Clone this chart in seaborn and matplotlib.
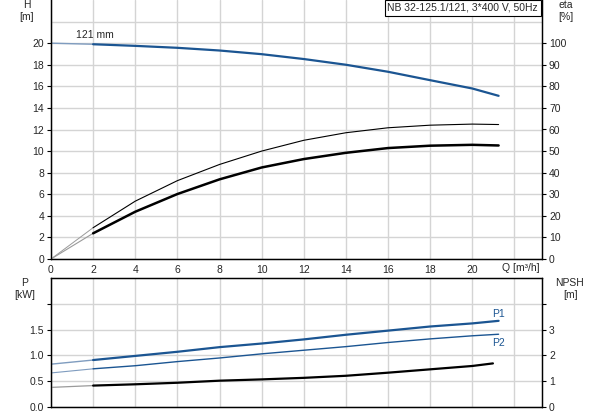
import numpy as np
import pandas as pd
import matplotlib
matplotlib.use("Agg")
import matplotlib.pyplot as plt
import seaborn as sns

# ---------------- data ----------------
q = [0, 2, 4, 6, 8, 10, 12, 14, 16, 18, 20, 21.25]
head = [20.0, 19.9, 19.75, 19.57, 19.32, 18.98, 18.53, 18.0, 17.35, 16.57, 15.8, 15.12]
eta_pump = [0, 14.5, 26.8, 36.3, 43.8, 50.0, 55.0, 58.5, 60.8, 62.0, 62.5, 62.3]
eta_total = [0, 11.9, 21.9, 30.1, 36.9, 42.4, 46.3, 49.2, 51.4, 52.5, 52.9, 52.6]
p1 = [0.83, 0.91, 0.99, 1.07, 1.16, 1.23, 1.31, 1.40, 1.48, 1.56, 1.62, 1.67]
p2 = [0.66, 0.74, 0.80, 0.88, 0.95, 1.03, 1.10, 1.17, 1.25, 1.32, 1.38, 1.41]
q_npsh = [0, 2, 4, 6, 8, 10, 12, 14, 16, 18, 20, 20.98]
npsh = [0.76, 0.83, 0.88, 0.94, 1.02, 1.07, 1.13, 1.21, 1.33, 1.46, 1.59, 1.69]

x_ticks = [0, 2, 4, 6, 8, 10, 12, 14, 16, 18, 20]
h_ticks = [0, 2, 4, 6, 8, 10, 12, 14, 16, 18, 20]
eta_ticks = [0, 10, 20, 30, 40, 50, 60, 70, 80, 90, 100]
p_ticks = [0.0, 0.5, 1.0, 1.5, 2.0]
p_labels = ["0.0", "0.5", "1.0", "1.5", ""]
npsh_ticks = [0, 1, 2, 3, 4]
npsh_labels = ["0", "1", "2", "3", ""]
title = "NB 32-125.1/121, 3*400 V, 50Hz"

# ---------------- style ----------------
sns.set_style("white")
plt.rcParams["font.family"] = ["Liberation Sans", "DejaVu Sans"]
plt.rcParams["font.size"] = 7.5

BLUE = "#1b5592"
GRID = "#d4d4d4"
W, H = 593, 415
fig = plt.figure(figsize=(W / 100, H / 100), dpi=100)

def fx(px):
    return px / W

def fy(py):
    return 1 - py / H

axL, axR = 51, 542
ax1 = fig.add_axes([fx(axL), fy(259), fx(axR - axL), fy(0) - fy(259)])
ax3 = fig.add_axes([fx(axL), fy(407), fx(axR - axL), fy(278) - fy(407)])
ax2 = ax1.twinx()
ax4 = ax3.twinx()

XMAX = 23.31

def seg(ax, xs, ys, color, lw, light_color, light_lw):
    xs = np.asarray(xs, float)
    ys = np.asarray(ys, float)
    m0 = xs <= 2
    m1 = xs >= 2
    sns.lineplot(x=xs[m0], y=ys[m0], ax=ax, color=light_color, lw=light_lw,
                 estimator=None, sort=False)
    sns.lineplot(x=xs[m1], y=ys[m1], ax=ax, color=color, lw=lw,
                 estimator=None, sort=False)

ax1.set_ylim(0, 24)
ax2.set_ylim(0, 120)
ax3.set_ylim(0, 2.5)
ax4.set_ylim(0, 5)

# grid lines
for a, yg in ((ax1, np.arange(0, 23, 2)), (ax3, np.arange(0, 2.1, 0.5))):
    for xv in np.arange(0, 23, 2):
        a.axvline(xv, color=GRID, lw=1.0, zorder=0)
    for yv in yg:
        a.axhline(yv, color=GRID, lw=1.0, zorder=0)

seg(ax1, q, head, BLUE, 1.6, "#7f9cbf", 1.0)
seg(ax2, q, eta_pump, "black", 0.8, "#9a9a9a", 0.7)
seg(ax2, q, eta_total, "black", 1.8, "#9a9a9a", 0.8)
seg(ax3, q, p1, BLUE, 1.6, "#7f9cbf", 1.0)
seg(ax3, q, p2, BLUE, 1.0, "#7f9cbf", 0.8)
seg(ax4, q_npsh, npsh, "black", 1.6, "#9a9a9a", 0.9)

for a in (ax1, ax2, ax3, ax4):
    a.set_xlim(0, XMAX)

ax1.text(2.1, 20.25, "121 mm", ha="center", va="bottom", fontsize=7.5)
ax3.text(21.23, 1.71, "P1", ha="center", va="bottom", color=BLUE, fontsize=7.5)
ax3.text(21.23, 1.33, "P2", ha="center", va="top", color=BLUE, fontsize=7.5)

# ticks
ax1.set_xticks(x_ticks)
ax1.set_xticklabels([str(v) for v in x_ticks])
ax1.set_yticks(h_ticks)
ax1.set_yticklabels([str(v) for v in h_ticks])
ax2.set_yticks(eta_ticks)
ax2.set_yticklabels([str(v) for v in eta_ticks])
ax3.set_xticks([])
ax3.set_yticks(p_ticks)
ax3.set_yticklabels(p_labels)
ax4.set_yticks(npsh_ticks)
ax4.set_yticklabels(npsh_labels)

for a in (ax1, ax2, ax3, ax4):
    a.set_xlabel("")
    a.set_ylabel("")
    a.tick_params(axis="y", length=3, width=0.8, pad=2, labelsize=7.5,
                  color="black", direction="out")
    a.grid(False)
    for s in a.spines.values():
        s.set_color("black")
        s.set_linewidth(0.9)
ax1.tick_params(axis="x", length=0, pad=4, labelsize=7.5)
ax2.spines["top"].set_visible(False)
ax1.spines["top"].set_visible(False)

# axis labels
fig.text(fx(27), fy(5), "H", ha="center", va="center", fontsize=7.5)
fig.text(fx(27), fy(17), "[m]", ha="center", va="center", fontsize=7.5)
fig.text(fx(566), fy(5), "eta", ha="center", va="center", fontsize=7.5)
fig.text(fx(566), fy(17), "[%]", ha="center", va="center", fontsize=7.5)
fig.text(fx(25), fy(283), "P", ha="center", va="center", fontsize=7.5)
fig.text(fx(25), fy(295), "[kW]", ha="center", va="center", fontsize=7.5)
fig.text(fx(570), fy(283), "NPSH", ha="center", va="center", fontsize=7.5)
fig.text(fx(571), fy(295), "[m]", ha="center", va="center", fontsize=7.5)
fig.text(fx(502), fy(268), "Q [m³/h]", ha="left", va="center", fontsize=7.5)

fig.text(fx(538), fy(8), title, ha="right", va="center", fontsize=7.5,
         bbox=dict(boxstyle="square,pad=0.25", fc="white", ec="black", lw=0.8))

fig.savefig("out.png", dpi=100)
